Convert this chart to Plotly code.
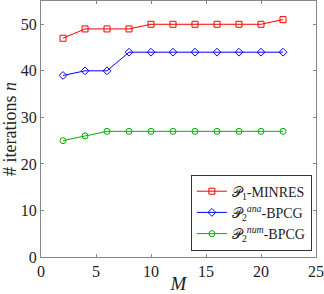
import plotly.graph_objects as go

M = [2, 4, 6, 8, 10, 12, 14, 16, 18, 20, 22]
p1_minres = [47, 49, 49, 49, 50, 50, 50, 50, 50, 50, 51]
p2ana_bpcg = [39, 40, 40, 44, 44, 44, 44, 44, 44, 44, 44]
p2num_bpcg = [25, 26, 27, 27, 27, 27, 27, 27, 27, 27, 27]

names = ["𝒫<sub>1</sub>-MINRES",
         "𝒫<sub>2</sub><sup><i>ana</i></sup>-BPCG",
         "𝒫<sub>2</sub><sup><i>num</i></sup>-BPCG"]
colors = ["#ff0000", "#0000ff", "#00b000"]
symbols = ["square-open", "diamond-open", "circle-open"]

fig = go.Figure()
for y, n, c, s in zip([p1_minres, p2ana_bpcg, p2num_bpcg], names, colors, symbols):
    fig.add_trace(go.Scatter(x=M, y=y, name=n, mode="lines+markers",
                             line=dict(color=c, width=1),
                             marker=dict(symbol=s, size=6, color=c, line=dict(width=1, color=c))))

font = "Liberation Serif, serif"
axis_common = dict(showgrid=False, zeroline=False, showline=True, linecolor="#888888",
                   linewidth=1, mirror="allticks", ticks="inside", ticklen=3,
                   tickcolor="#888888", automargin=False,
                   tickfont=dict(size=16, color="#222222", family=font))
fig.update_layout(
    width=324, height=294,
    margin=dict(l=41, r=8, t=1, b=37),
    paper_bgcolor="white", plot_bgcolor="white",
    font=dict(family=font, color="#222222"),
    showlegend=True,
    legend=dict(x=0.985, y=0.025, xanchor="right", yanchor="bottom",
                bgcolor="white", bordercolor="#333333", borderwidth=1,
                font=dict(size=14, family=font, color="#222222"),
                tracegroupgap=0, itemwidth=30),
    xaxis=dict(range=[0, 25], tickvals=[0, 5, 10, 15, 20, 25],
               title=dict(text="<i>M</i>", font=dict(size=19, family=font), standoff=0),
               **axis_common),
    yaxis=dict(range=[0, 55], tickvals=[0, 10, 20, 30, 40, 50],
               title=dict(text="# iterations <i>n</i>", font=dict(size=18, family=font), standoff=4),
               **axis_common),
)
fig.write_html("out.html", config={"displayModeBar": False},
               post_script="document.body.style.margin='0';document.body.style.overflow='hidden';")
